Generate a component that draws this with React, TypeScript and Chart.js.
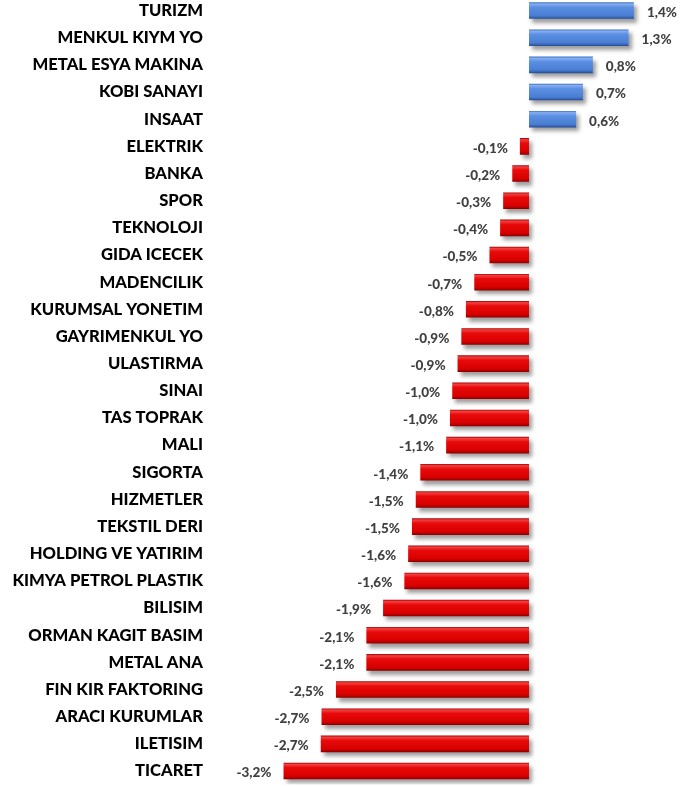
import React, { useEffect, useRef } from "react";
import { Chart, registerables } from "chart.js";

Chart.register(...registerables);

const categories = [
  "TURIZM", "MENKUL KIYM YO", "METAL ESYA MAKINA", "KOBI SANAYI", "INSAAT",
  "ELEKTRIK", "BANKA", "SPOR", "TEKNOLOJI", "GIDA ICECEK", "MADENCILIK",
  "KURUMSAL YONETIM", "GAYRIMENKUL YO", "ULASTIRMA", "SINAI", "TAS TOPRAK",
  "MALI", "SIGORTA", "HIZMETLER", "TEKSTIL DERI", "HOLDING VE YATIRIM",
  "KIMYA PETROL PLASTIK", "BILISIM", "ORMAN KAGIT BASIM", "METAL ANA",
  "FIN KIR FAKTORING", "ARACI KURUMLAR", "ILETISIM", "TICARET",
];

const changes = [
  1.38, 1.31, 0.84, 0.71, 0.62,
  -0.12, -0.22, -0.34, -0.38, -0.52, -0.72,
  -0.83, -0.89, -0.94, -1.01, -1.04,
  -1.09, -1.43, -1.49, -1.54, -1.59,
  -1.64, -1.92, -2.14, -2.14,
  -2.54, -2.73, -2.74, -3.23,
];

const xMin = -4;
const xMax = 2;
const BAR_PCT = 0.61;

function fmt(v: number) {
  return v.toFixed(1).replace(".", ",") + "%";
}

function barFill(ctx: any) {
  const chart = ctx.chart;
  const v = ctx.raw as number;
  const ys = chart.scales?.y;
  const pos = v >= 0;
  const solid = pos ? "#4f84d8" : "#dd0000";
  if (!ys || ctx.type !== "data") return solid;
  const yc = ys.getPixelForValue(ctx.dataIndex);
  const h = (ys.height / categories.length) * BAR_PCT;
  if (!isFinite(yc) || !isFinite(h) || h <= 0) return solid;
  const g = chart.ctx.createLinearGradient(0, yc - h / 2, 0, yc + h / 2);
  if (pos) {
    g.addColorStop(0, "#3b6cc2");
    g.addColorStop(0.1, "#86adf0");
    g.addColorStop(0.3, "#5b8fe2");
    g.addColorStop(0.8, "#4a7ed4");
    g.addColorStop(0.92, "#3563b4");
    g.addColorStop(1, "#24498c");
  } else {
    g.addColorStop(0, "#a00000");
    g.addColorStop(0.1, "#f24040");
    g.addColorStop(0.3, "#e80a0a");
    g.addColorStop(0.8, "#d80000");
    g.addColorStop(0.92, "#b00000");
    g.addColorStop(1, "#800000");
  }
  return g;
}

const barDecor = {
  id: "barDecor",
  beforeDatasetsDraw(chart: any) {
    const c = chart.ctx;
    c.save();
    c.shadowColor = "rgba(0,0,0,0.38)";
    c.shadowOffsetX = 3;
    c.shadowOffsetY = 4;
    c.shadowBlur = 4;
  },
  afterDatasetsDraw(chart: any) {
    const c = chart.ctx;
    c.restore();
    const meta = chart.getDatasetMeta(0);
    c.save();
    c.font = "900 13.5px Lato";
    c.fillStyle = "#404040";
    c.textBaseline = "middle";
    meta.data.forEach((el: any, i: number) => {
      const v = changes[i];
      const t = fmt(v);
      if (v >= 0) {
        c.textAlign = "left";
        c.fillText(t, el.x + 13, el.y + 2);
      } else {
        c.textAlign = "right";
        c.fillText(t, el.x - 12, el.y + 2);
      }
    });
    c.restore();
  },
};

export default function App() {
  const ref = useRef<HTMLCanvasElement | null>(null);
  useEffect(() => {
    if (!ref.current) return;
    const chart = new Chart(ref.current, {
      type: "bar",
      data: {
        labels: categories,
        datasets: [
          {
            data: changes,
            backgroundColor: barFill as any,
            borderWidth: 0,
            categoryPercentage: 1,
            barPercentage: BAR_PCT,
          },
        ],
      },
      options: {
        indexAxis: "y",
        animation: false,
        responsive: false,
        maintainAspectRatio: false,
        layout: { padding: { top: 1, bottom: 3.4, left: 0, right: 14 } },
        plugins: { legend: { display: false }, tooltip: { enabled: false } },
        scales: {
          x: {
            display: false,
            min: xMin,
            max: xMax,
          },
          y: {
            grid: { display: false, drawTicks: false },
            border: { display: false },
            afterFit: (s: any) => {
              s.width = 225;
              s.paddingTop = 0;
              s.paddingBottom = 0;
            },
            ticks: {
              padding: 22,
              color: "#000000",
              font: { family: "Lato", weight: "900", size: 16.6 },
            },
          },
        },
      },
      plugins: [barDecor],
    });
    return () => chart.destroy();
  }, []);
  return (
    <div style={{ position: "absolute", left: 0, top: -4, width: 695, height: 792 }}>
      <canvas ref={ref} width={695} height={792} style={{ width: 695, height: 792 }} />
    </div>
  );
}
